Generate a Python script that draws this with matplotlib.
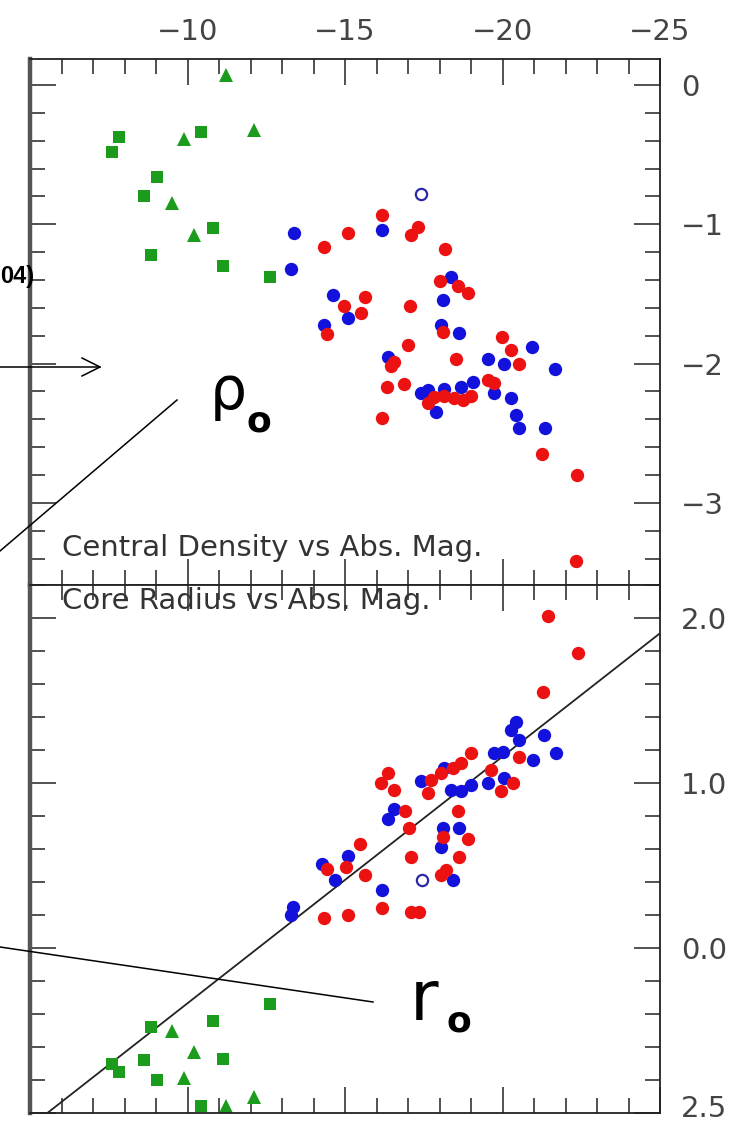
import matplotlib
matplotlib.use("Agg")
import matplotlib.pyplot as plt
import numpy as np
from matplotlib.lines import Line2D
from matplotlib.transforms import ScaledTranslation

# ---------------- data ----------------
# green squares (dwarfs)
green_sq_mag = [-7.61, -7.83, -8.62, -8.85, -9.04, -10.44, -10.82, -11.14, -12.63]
green_sq_rho = [-0.48, -0.37, -0.80, -1.22, -0.66, -0.34, -1.03, -1.30, -1.38]
green_sq_rc = [-0.70, -0.75, -0.68, -0.48, -0.80, -0.96, -0.44, -0.67, -0.34]
# green triangles
green_tri_mag = [-9.52, -9.90, -10.21, -11.23, -12.12]
green_tri_rho = [-0.85, -0.39, -1.08, 0.07, -0.32]
green_tri_rc = [-0.50, -0.79, -0.63, -0.96, -0.90]

# top panel: central density
blue_top_mag = [-13.39, -13.27, -16.16, -14.63, -14.32, -15.08, -18.35, -18.10, -18.04,
                -18.61, -16.38, -17.40, -17.62, -18.13, -18.67, -19.05, -17.88, -19.53,
                -20.04, -20.93, -21.66, -19.72, -20.26, -20.42, -20.52, -21.34]
blue_top_rho = [-1.06, -1.32, -1.04, -1.51, -1.72, -1.67, -1.38, -1.54, -1.72,
                -1.78, -1.95, -2.21, -2.19, -2.18, -2.17, -2.13, -2.35, -1.97,
                -2.00, -1.88, -2.04, -2.21, -2.25, -2.37, -2.46, -2.46]
red_top_mag = [-16.19, -15.11, -14.32, -17.31, -17.08, -18.16, -18.00, -18.58, -18.90,
               -15.62, -14.98, -15.52, -14.44, -17.05, -18.10, -16.99, -16.54, -16.45,
               -18.51, -16.32, -16.86, -17.62, -17.81, -18.13, -18.45, -18.74, -18.99,
               -16.19, -19.53, -19.72, -19.98, -20.26, -20.52, -21.25, -22.36, -22.33]
red_top_rho = [-0.93, -1.06, -1.16, -1.02, -1.08, -1.18, -1.41, -1.44, -1.49,
               -1.52, -1.59, -1.64, -1.79, -1.59, -1.77, -1.87, -1.99, -2.02,
               -1.97, -2.17, -2.15, -2.28, -2.24, -2.23, -2.25, -2.26, -2.23,
               -2.39, -2.12, -2.14, -1.81, -1.90, -2.00, -2.65, -2.80, -3.42]
open_top_mag = [-17.40]
open_top_rho = [-0.78]

# bottom panel: core radius
blue_bot_mag = [-20.42, -20.26, -20.52, -21.31, -21.69, -20.96, -19.72, -20.01, -17.40,
                -18.13, -18.35, -18.67, -18.99, -19.53, -20.04, -16.54, -16.38, -18.10,
                -18.61, -18.04, -15.08, -14.28, -14.67, -16.19, -18.42, -13.36, -13.27]
blue_bot_rc = [1.37, 1.32, 1.26, 1.29, 1.18, 1.14, 1.18, 1.19, 1.01,
               1.09, 0.96, 0.95, 0.99, 1.00, 1.03, 0.84, 0.78, 0.73,
               0.73, 0.61, 0.56, 0.51, 0.41, 0.35, 0.41, 0.25, 0.20]
red_bot_mag = [-21.44, -22.39, -21.28, -18.99, -20.52, -16.35, -16.13, -16.54, -17.72,
               -18.04, -18.42, -18.67, -17.62, -19.63, -19.94, -20.33, -18.58, -16.92,
               -17.02, -18.10, -18.90, -15.49, -17.08, -18.61, -15.02, -14.44, -15.62,
               -18.04, -18.20, -16.19, -14.32, -15.11, -17.08, -17.34]
red_bot_rc = [2.01, 1.79, 1.55, 1.18, 1.16, 1.06, 1.00, 0.96, 1.02,
              1.06, 1.09, 1.12, 0.94, 1.08, 0.95, 1.00, 0.83, 0.83,
              0.73, 0.67, 0.66, 0.63, 0.55, 0.55, 0.49, 0.48, 0.44,
              0.44, 0.47, 0.24, 0.18, 0.20, 0.22, 0.22]
open_bot_mag = [-17.43]
open_bot_rc = [0.41]

# linear fit in the core radius panel: rc = a + b * M
fit_a = -1.83
fit_b = -0.1495
fit_mag = [-5.0, -25.0]

top_xticks = [-10, -15, -20, -25]
top_xticklabels = ['\u221210', '\u221215', '\u221220', '\u221225']
top_yticks = [0, -1, -2, -3]
top_yticklabels = ['0', '\u22121', '\u22122', '\u22123']
bot_yticks = [2.0, 1.0, 0.0, -1.0]
bot_yticklabels = ['2.0', '1.0', '0.0', '2.5']

# ---------------- figure ----------------
W, H = 732, 1127
fig = plt.figure(figsize=(W / 100, H / 100), dpi=100)
fig.patch.set_facecolor('white')


def fx(x):
    return x / W


def fy(y):
    return 1 - y / H


L, R = 30, 660
ax1 = fig.add_axes([fx(L), fy(585), (R - L) / W, (585 - 59) / H])
ax2 = fig.add_axes([fx(L), fy(1113), (R - L) / W, (1113 - 585) / H])

RED = '#ec1212'
BLUE = '#1212dc'
GREEN = '#1c9c1c'
ms_c = 9.6
ms_s = 8.6
ms_t = 9.6
TICKSIZE = 21

for ax in (ax1, ax2):
    ax.set_xlim(-5, -25)
    ax.set_facecolor('white')
    for s in ax.spines.values():
        s.set_linewidth(1.3)
        s.set_color('#222222')
    ax.spines['left'].set_linewidth(3.2)
    ax.spines['left'].set_color('#555555')
    ax.set_xticks(top_xticks)
    ax.set_xticks(np.arange(-5, -26, -1), minor=True)
    ax.tick_params(axis='both', which='major', direction='in', length=19, width=1.2,
                   color='#333333', top=True, bottom=True, left=True, right=True,
                   labelleft=False, labelbottom=False, labeltop=False, labelright=True,
                   labelsize=TICKSIZE, labelcolor='#444444')
    ax.tick_params(axis='y', which='major', pad=15)
    ax.tick_params(axis='x', which='major', pad=9)
    ax.tick_params(axis='both', which='minor', direction='in', length=11, width=1.2,
                   color='#333333', top=True, bottom=True, left=True, right=True)

# top panel
ax1.set_ylim(-3.59, 0.187)
ax1.set_yticks(top_yticks)
ax1.set_yticklabels(top_yticklabels)
ax1.set_yticks(np.arange(-3.4, 0.19, 0.2), minor=True)
ax1.tick_params(axis='x', labeltop=True)
ax1.set_xticklabels(top_xticklabels)
for lab in ax1.get_yticklabels():
    lab.set_horizontalalignment('left')

ax1.plot(green_sq_mag, green_sq_rho, 's', color=GREEN, ms=ms_s, mew=0)
ax1.plot(green_tri_mag, green_tri_rho, '^', color=GREEN, ms=ms_t, mew=0)
ax1.plot(blue_top_mag, blue_top_rho, 'o', color=BLUE, ms=ms_c, mew=0)
ax1.plot(red_top_mag, red_top_rho, 'o', color=RED, ms=ms_c, mew=0)
ax1.plot(open_top_mag, open_top_rho, 'o', mfc='white', mec='#2a2aa8', ms=ms_c - 1.5, mew=1.6)
ax1.text(fx(62), fy(548), 'Central Density vs Abs. Mag.', transform=fig.transFigure,
         fontsize=21, color='#333333', ha='left', va='center')

# bottom panel
ax2.set_ylim(-1.0, 2.2)
ax2.set_yticks(bot_yticks)
ax2.set_yticklabels(bot_yticklabels)
ax2.set_yticks(np.arange(-0.8, 2.21, 0.2), minor=True)
ylabs = ax2.get_yticklabels()
for lab in ylabs:
    lab.set_horizontalalignment('left')
# keep the lowest label inside the picture
ylabs[-1].set_verticalalignment('bottom')
ylabs[-1].set_transform(ylabs[-1].get_transform() +
                        ScaledTranslation(0, -7 / 72, fig.dpi_scale_trans))

fm = np.array(fit_mag)
ax2.plot(fm, fit_a + fit_b * fm, color='#222222', lw=1.3)
ax2.plot(green_sq_mag, green_sq_rc, 's', color=GREEN, ms=ms_s, mew=0, clip_on=False)
ax2.plot(green_tri_mag, green_tri_rc, '^', color=GREEN, ms=ms_t, mew=0, clip_on=False)
ax2.plot(blue_bot_mag, blue_bot_rc, 'o', color=BLUE, ms=ms_c, mew=0)
ax2.plot(red_bot_mag, red_bot_rc, 'o', color=RED, ms=ms_c, mew=0)
ax2.plot(open_bot_mag, open_bot_rc, 'o', mfc='white', mec='#2a2aa8', ms=ms_c - 1.5, mew=1.6)
ax2.text(fx(62), fy(601), 'Core Radius vs Abs. Mag.', transform=fig.transFigure,
         fontsize=21, color='#333333', ha='left', va='center')

# ---------------- annotations outside the panels ----------------
fig.text(fx(0), fy(276), '04)', fontsize=17, fontweight='bold',
         family='Liberation Sans', ha='left', va='center', color='black')

fig.add_artist(Line2D([fx(0), fx(100)], [fy(367), fy(367)], transform=fig.transFigure,
                      color='black', lw=1.1))
fig.add_artist(Line2D([fx(82), fx(100), fx(82)], [fy(358), fy(367), fy(376)],
                      transform=fig.transFigure, color='black', lw=1.1))

fig.add_artist(Line2D([fx(0), fx(177)], [fy(551), fy(400)], transform=fig.transFigure,
                      color='black', lw=1.1))
fig.add_artist(Line2D([fx(0), fx(373)], [fy(947), fy(1002)], transform=fig.transFigure,
                      color='black', lw=1.1))

fig.text(fx(210), fy(409), '\u03c1', fontsize=42, ha='left', va='baseline', color='black')
fig.text(fx(247), fy(431), 'o', fontsize=26, fontweight='bold', ha='left', va='baseline',
         color='black')
fig.text(fx(410), fy(1020), 'r', fontsize=50, ha='left', va='baseline', color='black')
fig.text(fx(446), fy(1031), 'o', fontsize=26, fontweight='bold', ha='left', va='baseline',
         color='black')

fig.savefig('out.png', dpi=100, facecolor='white')
